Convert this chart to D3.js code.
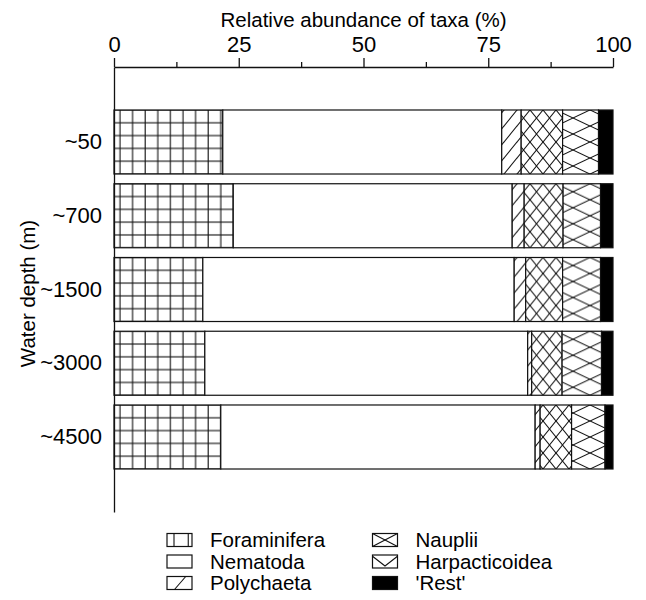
<!DOCTYPE html>
<html>
<head>
<meta charset="utf-8">
<script src="https://cdn.jsdelivr.net/npm/d3@7"></script>
<style>
  html, body { margin: 0; padding: 0; background: #fff; }
  svg { display: block; font-family: "Liberation Sans", Arial, Helvetica, sans-serif; }
</style>
</head>
<body>
<svg id="chart" width="646" height="600"></svg>
<script>
// Water depth classes (rows) and taxa (stacked segments)
const depths = ["~50", "~700", "~1500", "~3000", "~4500"];
const taxa = ["Foraminifera", "Nematoda", "Polychaeta", "Nauplii", "Harpacticoidea", "'Rest'"];

// Relative abundance (%) of each taxon per depth class
const foraminifera   = [21.8, 23.9, 17.8, 18.2, 21.4];
const nematoda       = [55.9, 55.9, 62.4, 64.7, 63.0];
const polychaeta     = [3.9, 2.4, 2.3, 0.8, 1.0];
const nauplii        = [8.3, 7.8, 7.4, 6.1, 6.3];
const harpacticoidea = [7.2, 7.5, 7.6, 7.9, 6.7];
const rest           = [2.9, 2.5, 2.5, 2.3, 1.6];

const majorTicks = [0, 25, 50, 75, 100];
const minorTicks = [12.5, 37.5, 62.5, 87.5];

const seriesValues = [foraminifera, nematoda, polychaeta, nauplii, harpacticoidea, rest];
const rows = depths.map((d, i) => {
  const r = { depth: d };
  taxa.forEach((t, k) => { r[t] = seriesValues[k][i]; });
  return r;
});

const svg = d3.select("#chart");
const x = d3.scaleLinear().domain([0, 100]).range([114, 613]);
const y = d3.scaleBand().domain(depths).range([67, 512])
  .paddingInner(0.132).paddingOuter(0.583);

// ---- hatch patterns (tiles anchored to each bar's top-left corner) ----
const defs = svg.append("defs");
const ink = "#111";
const lw = 1.1;

function addPattern(id, w, h, draw) {
  const p = defs.append("pattern").attr("id", id)
    .attr("patternUnits", "userSpaceOnUse")
    .attr("width", w).attr("height", h);
  p.append("rect").attr("width", w).attr("height", h).attr("fill", "#fff");
  draw(p, w, h);
}
function line(p, x1, y1, x2, y2) {
  p.append("line").attr("x1", x1).attr("y1", y1).attr("x2", x2).attr("y2", y2)
    .attr("stroke", ink).attr("stroke-width", lw);
}
// diagonal families, drawn long so the tile seams join cleanly
function slashes(p, w, h) { [-w, 0, w].forEach(o => line(p, o - w, 2 * h, o + 2 * w, -h)); }
function backslashes(p, w, h) { [-w, 0, w].forEach(o => line(p, o - w, -h, o + 2 * w, 2 * h)); }

const cell = 64 / 5;
addPattern("pat-foram", 12.6, cell, (p, w, h) => {
  line(p, 6, 0, 6, h);
  line(p, 0, 0, w, 0);
  line(p, 0, h, w, h);
});
addPattern("pat-poly", 13, 16, slashes);
addPattern("pat-naup", 13, 16, (p, w, h) => { slashes(p, w, h); backslashes(p, w, h); });
addPattern("pat-harp", 34, 16, (p, w, h) => { slashes(p, w, h); backslashes(p, w, h); });

const barFill = {
  "Foraminifera": "url(#pat-foram)",
  "Nematoda": "#fff",
  "Polychaeta": "url(#pat-poly)",
  "Nauplii": "url(#pat-naup)",
  "Harpacticoidea": "url(#pat-harp)",
  "'Rest'": "#000"
};

// ---- stacked bars ----
const stacked = d3.stack().keys(taxa)(rows);
const x0 = x(0);
const barGroups = svg.append("g").selectAll("g.bar")
  .data(depths).join("g").attr("class", "bar")
  .attr("transform", d => `translate(${x0},${y(d)})`);

barGroups.each(function(depth, i) {
  const g = d3.select(this);
  stacked.forEach(layer => {
    const seg = layer[i];
    g.append("rect")
      .attr("x", x(seg[0]) - x0)
      .attr("y", 0)
      .attr("width", x(seg[1]) - x(seg[0]))
      .attr("height", y.bandwidth())
      .attr("fill", barFill[layer.key])
      .attr("stroke", ink)
      .attr("stroke-width", 1.2);
  });
});

// ---- axes ----
const topAxis = svg.append("g").attr("transform", `translate(0,${y.range()[0]})`)
  .call(d3.axisTop(x).tickValues(majorTicks).tickSize(9).tickSizeOuter(0).tickPadding(6)
    .tickFormat(d3.format("d")));
topAxis.selectAll("text").attr("font-size", 22).attr("fill", "#000");
topAxis.selectAll("line, path").attr("stroke", ink).attr("stroke-width", 1.3);

const minorAxis = svg.append("g").attr("transform", `translate(0,${y.range()[0]})`)
  .call(d3.axisTop(x).tickValues(minorTicks).tickSize(5).tickFormat(""));
minorAxis.select(".domain").remove();
minorAxis.selectAll("line").attr("stroke", ink).attr("stroke-width", 1.3);

const leftAxis = svg.append("g").attr("transform", `translate(${x0},0)`)
  .call(d3.axisLeft(y).tickSize(0).tickSizeOuter(0).tickPadding(12));
leftAxis.selectAll("text").attr("font-size", 22).attr("fill", "#000");
leftAxis.select(".domain").attr("stroke", ink).attr("stroke-width", 1.3);

svg.append("text")
  .attr("x", (x.range()[0] + x.range()[1]) / 2).attr("y", 27)
  .attr("text-anchor", "middle").attr("font-size", 20.5)
  .text("Relative abundance of taxa (%)");

svg.append("text")
  .attr("transform", "rotate(-90)")
  .attr("x", -(y.range()[0] + y.range()[1]) / 2 - 4).attr("y", 35)
  .attr("text-anchor", "middle").attr("font-size", 20.5)
  .text("Water depth (m)");

// ---- legend ----
const legDefs = {
  "Foraminifera": g => {
    g.append("line").attr("x1", 0.28).attr("x2", 0.28).attr("y1", 0).attr("y2", 1);
    g.append("line").attr("x1", 0.85).attr("x2", 0.85).attr("y1", 0).attr("y2", 1);
  },
  "Nematoda": g => {},
  "Polychaeta": g => {
    g.append("line").attr("x1", 0.3).attr("y1", 1).attr("x2", 0.75).attr("y2", 0);
  },
  "Nauplii": g => {
    g.append("line").attr("x1", 0).attr("y1", 0).attr("x2", 1).attr("y2", 1);
    g.append("line").attr("x1", 0).attr("y1", 1).attr("x2", 1).attr("y2", 0);
  },
  "Harpacticoidea": g => {
    g.append("polyline").attr("points", "0,0.1 0.5,0.85 1,0.1").attr("fill", "none");
  },
  "'Rest'": g => {}
};
const boxW = 25, boxH = 13;
const legend = svg.append("g").selectAll("g.item").data(taxa).join("g")
  .attr("class", "item")
  .attr("transform", (d, i) => `translate(${i < 3 ? 167 : 372.5},${533.5 + (i % 3) * 21.5})`);

legend.append("rect")
  .attr("width", boxW).attr("height", boxH)
  .attr("fill", d => d === "'Rest'" ? "#000" : "#fff")
  .attr("stroke", ink).attr("stroke-width", 1.2);
legend.append("g")
  .attr("transform", `scale(${boxW},${boxH})`)
  .attr("stroke", ink).attr("stroke-width", 1.1).attr("vector-effect", "non-scaling-stroke")
  .each(function(d) { legDefs[d](d3.select(this)); })
  .selectAll("line, polyline").attr("vector-effect", "non-scaling-stroke");
legend.append("text")
  .attr("x", 43).attr("y", 13.5)
  .attr("font-size", 20.5)
  .text(d => d);
</script>
</body>
</html>
